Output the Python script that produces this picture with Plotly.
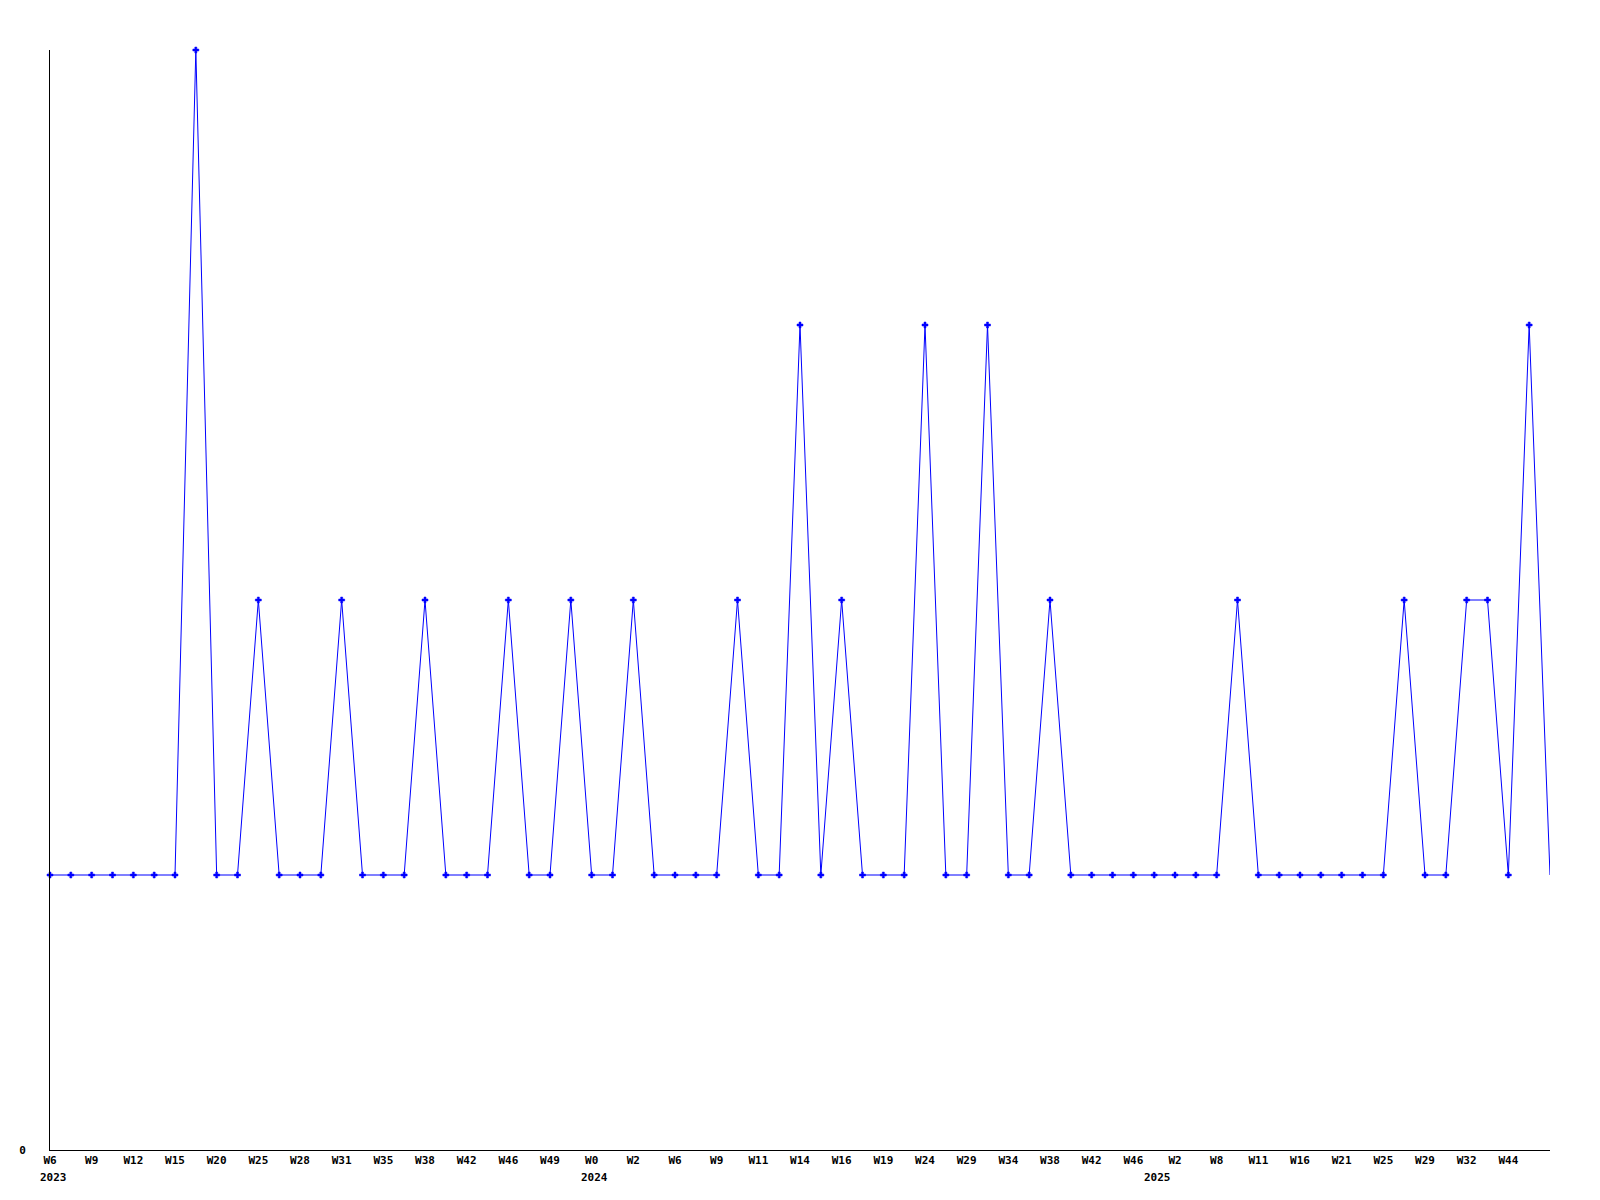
import plotly.graph_objects as go

# weekly sample values, one per point (73 points)
values = [1, 1, 1, 1, 1, 1, 1, 4, 1, 1,
          2, 1, 1, 1, 2, 1, 1, 1, 2, 1,
          1, 1, 2, 1, 1, 2, 1, 1, 2, 1,
          1, 1, 1, 2, 1, 1, 3, 1, 2, 1,
          1, 1, 3, 1, 1, 3, 1, 1, 2, 1,
          1, 1, 1, 1, 1, 1, 1, 2, 1, 1,
          1, 1, 1, 1, 1, 2, 1, 1, 2, 2,
          1, 3, 1]

# labels shown on every second point
week_labels = ["W6", "W9", "W12", "W15", "W20", "W25", "W28", "W31", "W35", "W38",
               "W42", "W46", "W49", "W0", "W2", "W6", "W9", "W11", "W14", "W16",
               "W19", "W24", "W29", "W34", "W38", "W42", "W46", "W2", "W8", "W11",
               "W16", "W21", "W25", "W29", "W32", "W44"]

# year markers and the point index where each year starts
years = ["2023", "2024", "2025"]
year_index = [0, 26, 53]

x = list(range(len(values)))
tick_pos = x[::2][:len(week_labels)]
font = dict(family="DejaVu Sans Mono", size=11, color="black")

fig = go.Figure()
fig.add_trace(go.Scatter(x=x, y=values, mode="lines",
                         line=dict(color="#0000ff", width=1),
                         cliponaxis=False, hoverinfo="skip"))
# last point is drawn without a marker in the original
fig.add_trace(go.Scatter(x=x[:-1], y=values[:-1], mode="markers",
                         marker=dict(color="#0000ff", size=5, symbol="cross",
                                     line=dict(width=0.5, color="#0000ff")),
                         cliponaxis=False))

for yr, idx in zip(years, year_index):
    fig.add_annotation(x=idx, y=0, xref="x", yref="paper", text="<b>%s</b>" % yr,
                       showarrow=False, yanchor="top", yshift=-19, xshift=3,
                       font=font)

fig.update_layout(
    width=1600, height=1200,
    margin=dict(l=42, r=58, t=42, b=58),
    paper_bgcolor="white", plot_bgcolor="white",
    showlegend=False,
    xaxis=dict(range=[0, len(values) - 1], showgrid=False, zeroline=False,
               showline=True, linecolor="black", linewidth=1,
               tickvals=tick_pos, ticktext=["<b>%s</b>" % t for t in week_labels],
               ticks="", tickfont=font, tickangle=0),
    yaxis=dict(range=[0, 4], showgrid=False, zeroline=False,
               showline=True, linecolor="black", linewidth=1,
               tickvals=[0], ticktext=["<b>0</b>"], ticks="",
               tickfont=font, ticklabelstandoff=21),
)

fig.write_html("out.html")
